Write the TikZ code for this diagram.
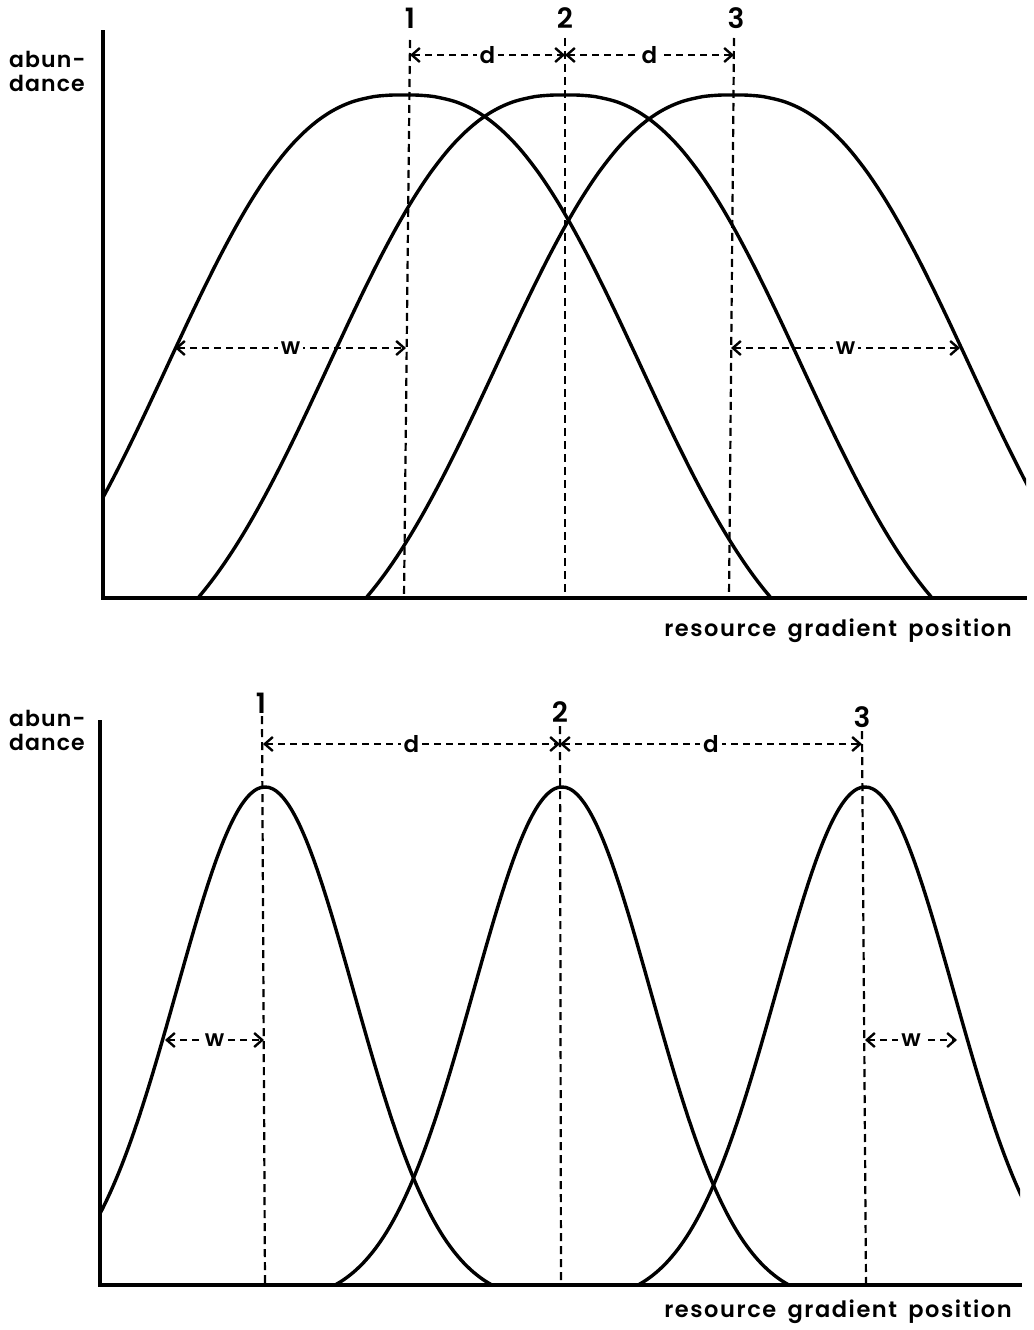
\documentclass[tikz,border=0pt]{standalone}
\usepackage{fontspec}
\setmainfont{Poppins SemiBold}
\usetikzlibrary{arrows.meta}
\newcommand\topbump[1]{%
  \draw[curve, shift={(#1,598)}] plot[domain=-366:366, samples=121, smooth]
    (\x, {-503*(exp(-((abs(\x)/285)^2.6)) - 0.145)/0.855});}
\newcommand\lowbump[1]{%
  \draw[curve, shift={(#1,1285)}] plot[domain=-227:227, samples=121, smooth]
    (\x, {-498*(exp(-((\x/125)^2)) - 0.037)/0.963});}
\begin{document}
\begin{tikzpicture}[x=1pt,y=-1pt,
  curve/.style={line width=3.4pt, line join=round, line cap=round},
  axis/.style={line width=3.2pt, line cap=rect},
  guide/.style={line width=2.2pt, dash pattern=on 8pt off 5pt},
  dim/.style={line width=2pt, dash pattern=on 7pt off 5pt,
    {Straight Barb[length=8pt,width=14pt,line width=2.4pt]}-{Straight Barb[length=8pt,width=14pt,line width=2.4pt]}},
  lab/.style={font=\fontsize{22}{24}\selectfont\addfontfeature{LetterSpace=5}, inner sep=0pt},
  xlab/.style={font=\fontsize{22.5}{24}\selectfont\addfontfeature{LetterSpace=7}, inner sep=0pt},
  gap/.style={font=\fontsize{23}{24}\selectfont, fill=white, inner sep=3pt},
  num/.style={font=\fontsize{28}{30}\selectfont, inner sep=0pt},
]
\useasboundingbox (0,0) rectangle (1033,1330);
% ---------------- top panel ----------------
\node[lab, anchor=base west] (ab1) at (9,67) {abun-};
\node[lab, anchor=base west] (da1) at (9,91) {dance};
\coordinate (o1) at (103,598);
\coordinate (ytop1) at (103,32);
\coordinate (xend1) at (1025,598);
\draw[axis] (ytop1) -- (o1) -- (xend1);
\begin{scope}
  \clip (103,0) rectangle (1026,598);
  \topbump{404}
  \topbump{565}
  \topbump{733}
\end{scope}
\node[num] (n1) at (410,18) {1};
\node[num] (n2) at (565,18) {2};
\node[num] (n3) at (736,18) {3};
\coordinate (l1t) at (410,40); \coordinate (l1b) at (404,598);
\coordinate (l2t) at (565,38); \coordinate (l2b) at (565,598);
\coordinate (l3t) at (734,38); \coordinate (l3b) at (729,598);
\draw[guide] (l1t) -- (l1b);
\draw[guide] (l2t) -- (l2b);
\draw[guide] (l3t) -- (l3b);
\coordinate (d1a) at (410,55); \coordinate (d1b) at (565,55); \coordinate (d1c) at (734,55);
\draw[dim] (d1a) -- node[gap] (dl1) {d} (d1b);
\draw[dim] (d1b) -- node[gap] (dl2) {d} (d1c);
\coordinate (w1a) at (175,348); \coordinate (w1b) at (406,348);
\coordinate (w1c) at (731,348); \coordinate (w1d) at (960,348);
\draw[dim] (w1a) -- node[gap] (wl1) {w} (w1b);
\draw[dim] (w1c) -- node[gap] (wl2) {w} (w1d);
\node[xlab] (xl1) at (838,631) {resource\enspace gradient\enspace position};
% ---------------- bottom panel ----------------
\node[lab, anchor=base west] (ab2) at (9,726) {abun-};
\node[lab, anchor=base west] (da2) at (9,750) {dance};
\coordinate (o2) at (100,1285);
\coordinate (ytop2) at (100,722);
\coordinate (xend2) at (1020,1285);
\draw[axis] (ytop2) -- (o2) -- (xend2);
\begin{scope}
  \clip (100,690) rectangle (1020,1285);
  \lowbump{265}
  \lowbump{562}
  \lowbump{865}
\end{scope}
\node[num] (m1) at (261,703) {1};
\node[num] (m2) at (560,712) {2};
\node[num] (m3) at (862,717) {3};
\coordinate (k1t) at (262,716); \coordinate (k1b) at (265,1285);
\coordinate (k2t) at (560,726); \coordinate (k2b) at (561,1285);
\coordinate (k3t) at (862,731); \coordinate (k3b) at (866,1285);
\draw[guide] (k1t) -- (k1b);
\draw[guide] (k2t) -- (k2b);
\draw[guide] (k3t) -- (k3b);
\coordinate (e1a) at (263,744); \coordinate (e1b) at (560,744); \coordinate (e1c) at (862,744);
\draw[dim] (e1a) -- node[gap] (el1) {d} (e1b);
\draw[dim] (e1b) -- node[gap] (el2) {d} (e1c);
\coordinate (v1a) at (165,1040); \coordinate (v1b) at (264,1040);
\coordinate (v1c) at (865,1040); \coordinate (v1d) at (957,1040);
\draw[dim] (v1a) -- node[gap] (vl1) {w} (v1b);
\draw[dim] (v1c) -- node[gap] (vl2) {w} (v1d);
\node[xlab] (xl2) at (838,1312) {resource\enspace gradient\enspace position};
\end{tikzpicture}
\end{document}
